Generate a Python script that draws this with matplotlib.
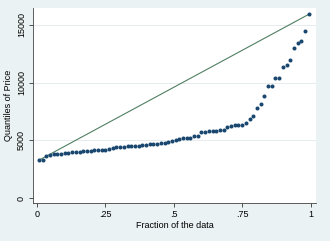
import matplotlib.pyplot as plt
import numpy as np

# auto.dta prices
price = [4099, 4749, 3799, 4816, 7827, 5788, 4453, 5189, 10372, 4082,
         11385, 14500, 15906, 3299, 5705, 4504, 5104, 3667, 3955, 3984,
         4010, 5886, 6342, 4389, 4187, 11497, 13594, 13466, 3829, 5379,
         6165, 4516, 6303, 3291, 8814, 5172, 4733, 4890, 4181, 4195,
         10371, 4647, 4425, 4482, 6486, 4060, 5798, 4934, 5222, 4723,
         4424, 4172, 9690, 6295, 9735, 6229, 4589, 5079, 8129, 4296,
         5799, 4499, 3995, 12990, 3895, 3798, 5899, 3748, 5719, 7140,
         5397, 4697, 6850, 11995]
yticks = [0, 5000, 10000, 15000]
xticks = [0, 0.25, 0.5, 0.75, 1]
xticklabels = ['0', '.25', '.5', '.75', '1']

q = np.sort(price)
n = len(q)
frac = (np.arange(1, n + 1) - 0.5) / n

plt.rcParams['font.family'] = ['Liberation Sans', 'DejaVu Sans']
bg = '#eaf2f3'
fig = plt.figure(figsize=(3.3, 2.41), dpi=100, facecolor=bg)
ax = fig.add_axes([0.1, 0.159, 0.8576, 0.808])
ax.set_facecolor('white')

ax.plot([frac[0], frac[-1]], [q[0], q[-1]], color='#4f7f62', lw=0.8, zorder=2)
ax.plot(frac, q, 'o', color='#1a476f', ms=2.9, mec='none', zorder=3)

ax.set_xlim(-0.0146, 1.02)
ax.set_ylim(-380, 16460)
ax.set_xticks(xticks)
ax.set_xticklabels(xticklabels)
ax.set_yticks(yticks)
ax.set_yticklabels([str(t) for t in yticks], rotation=90, va='center')
ax.tick_params(labelsize=6.5, length=3, width=0.6, color='#333333', pad=2)
for t in yticks[1:]:
    ax.axhline(t, color='#e6ecee', lw=0.7, zorder=1)
for s in ['top', 'right']:
    ax.spines[s].set_visible(False)
for s in ['left', 'bottom']:
    ax.spines[s].set_color('#444444')
    ax.spines[s].set_linewidth(0.6)
ax.set_xlabel('Fraction of the data', fontsize=6.5, labelpad=2)
ax.set_ylabel('Quantiles of Price', fontsize=6.5, labelpad=3)

fig.savefig('out.png', dpi=100, facecolor=bg)
